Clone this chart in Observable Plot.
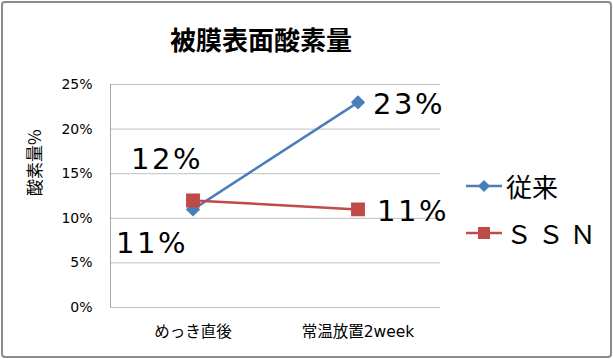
<!DOCTYPE html>
<html><head><meta charset="utf-8">
<script src="https://cdn.jsdelivr.net/npm/d3@7"></script>
<script src="https://cdn.jsdelivr.net/npm/@observablehq/plot@0.6"></script>
<style>
html,body{margin:0;padding:0;background:#fff;}
#wrap{position:relative;width:613px;height:359px;overflow:hidden;font-family:"DejaVu Sans","Noto Sans CJK JP",sans-serif;}
#frame{position:absolute;left:1px;top:1px;width:607px;height:353px;border:2px solid #8c8c8c;border-radius:4px;pointer-events:none;}
#title{position:absolute;left:161px;width:200px;top:20px;text-align:center;font-size:26px;font-weight:bold;color:#000;font-family:"Noto Sans CJK JP",sans-serif;}
#legend{position:absolute;left:466px;top:162px;font-size:26px;color:#000;font-family:"Noto Sans CJK JP",sans-serif;}
.li{display:flex;align-items:center;height:47px;}
.li svg{margin-right:4px;}
</style></head>
<body><div id="wrap"><div id="title"></div><div id="legend"></div><div id="frame"></div></div>
<script>
const title = "被膜表面酸素量";
const yLabel = "酸素量%";
const categories = ["めっき直後", "常温放置2week"];
const seriesNames = ["従来", "ＳＳＮ"];
const legendLabels = ["従来", "Ｓ Ｓ Ｎ"];
const valuesJurai = [0.11, 0.23];
const valuesSSN = [0.12, 0.11];
const yTicks = [0, 0.05, 0.10, 0.15, 0.20, 0.25];
const colors = ["#4a7ebb", "#be4b48"];

const rows = [];
categories.forEach((c, i) => {
  rows.push({cat: c, s: seriesNames[0], v: valuesJurai[i], i});
  rows.push({cat: c, s: seriesNames[1], v: valuesSSN[i], i});
});
const juraiRows = rows.filter(d => d.s === seriesNames[0]);
const ssnRows = rows.filter(d => d.s === seriesNames[1]);
const fmt = d3.format(".0%");
const font = "DejaVu Sans, Noto Sans CJK JP";
const lblSize = 29;

const chart = Plot.plot({
  width: 613, height: 359,
  marginLeft: 110, marginRight: 173, marginTop: 84, marginBottom: 52,
  style: {fontFamily: font, background: "transparent", overflow: "visible"},
  x: {type: "band", domain: categories, padding: 0, label: null},
  y: {domain: [0, 0.25], ticks: yTicks, tickFormat: fmt, label: null},
  marks: [
    Plot.ruleY(yTicks, {stroke: "#bfbfbf", strokeWidth: 1}),
    Plot.ruleX([categories[0]], {stroke: "#a6a6a6", strokeWidth: 1, dx: -82.5}),
    Plot.axisY({ticks: yTicks, tickFormat: fmt, tickSize: 0, tickPadding: 18, fontSize: 14, fill: "#000", label: null, style: {letterSpacing: "0.5px"}}),
    Plot.axisX({tickSize: 0, tickPadding: 18, fontSize: 15.5, fill: "#000", label: null}),
    Plot.line(juraiRows, {x: "cat", y: "v", stroke: colors[0], strokeWidth: 2.5}),
    Plot.line(ssnRows, {x: "cat", y: "v", stroke: colors[1], strokeWidth: 2.5}),
    Plot.dot(juraiRows, {x: "cat", y: "v", symbol: "diamond2", r: 5.5, fill: colors[0], stroke: colors[0]}),
    Plot.dot(ssnRows, {x: "cat", y: "v", symbol: "square", r: 7, fill: colors[1], stroke: colors[1]}),
    Plot.text([juraiRows[0]], {x: "cat", y: "v", text: d => fmt(d.v), fontSize: lblSize, dx: -41, dy: 34, fill: "#000"}),
    Plot.text([juraiRows[1]], {x: "cat", y: "v", text: d => fmt(d.v), fontSize: lblSize, dx: 15, dy: 2, textAnchor: "start", fill: "#000"}),
    Plot.text([ssnRows[0]], {x: "cat", y: "v", text: d => fmt(d.v), fontSize: lblSize, dx: -26, dy: -41, fill: "#000"}),
    Plot.text([ssnRows[1]], {x: "cat", y: "v", text: d => fmt(d.v), fontSize: lblSize, dx: 19, dy: 2, textAnchor: "start", fill: "#000"}),
    Plot.text([yLabel], {frameAnchor: "left", dx: -75, rotate: -90, fontSize: 17, fill: "#000", text: d => d, fontFamily: "Noto Sans CJK JP"})
  ]
});
chart.querySelectorAll("g[font-size='" + lblSize + "'] text, text[font-size='" + lblSize + "']").forEach(t => {
  t.style.letterSpacing = "2.5px";
});
chart.style.position = "absolute";
chart.style.left = "0"; chart.style.top = "0";
document.getElementById("wrap").prepend(chart);
document.getElementById("title").textContent = title;

const leg = document.getElementById("legend");
legendLabels.forEach((name, i) => {
  const div = document.createElement("div");
  div.className = "li";
  const ns = "http://www.w3.org/2000/svg";
  const s = document.createElementNS(ns, "svg");
  s.setAttribute("width", 36); s.setAttribute("height", 16);
  const l = document.createElementNS(ns, "line");
  l.setAttribute("x1", 0); l.setAttribute("x2", 36); l.setAttribute("y1", 8); l.setAttribute("y2", 8);
  l.setAttribute("stroke", colors[i]); l.setAttribute("stroke-width", 2.5);
  s.appendChild(l);
  if (i === 0) {
    const p = document.createElementNS(ns, "path");
    p.setAttribute("d", "M18,2 L24,8 L18,14 L12,8 Z"); p.setAttribute("fill", colors[i]);
    s.appendChild(p);
  } else {
    const r = document.createElementNS(ns, "rect");
    r.setAttribute("x", 12); r.setAttribute("y", 2); r.setAttribute("width", 12); r.setAttribute("height", 12);
    r.setAttribute("fill", colors[i]);
    s.appendChild(r);
  }
  div.appendChild(s);
  const t = document.createElement("span");
  t.textContent = name;
  div.appendChild(t);
  leg.appendChild(div);
});
</script></body></html>
